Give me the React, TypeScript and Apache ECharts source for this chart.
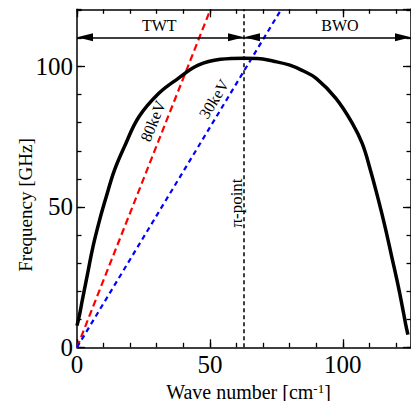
import React, { useEffect, useRef } from 'react';
import * as echarts from 'echarts';

// Dispersion curve (wave number [cm^-1] -> frequency [GHz])
const waveNumber = [0, 1, 2, 4, 6, 8.5, 11, 14.1, 17.8, 23.3, 30.7, 38.1, 45.6, 54, 62.8, 67.8, 74, 80.1, 85, 90, 97.4, 103.6, 107.3, 110.4, 113.4, 115.9, 118.4, 120.9, 123, 123.7, 124.5];
const frequency = [7.7, 11.8, 16.8, 26.3, 35.8, 45.3, 53.6, 63.1, 71.4, 82.1, 90.4, 95.8, 100.5, 102.6, 103, 102.9, 101.9, 100.5, 98.5, 95.8, 88.7, 79.8, 72.6, 63.1, 52.5, 42.9, 32.3, 21.6, 11.5, 8, 4.5];

// Beam lines (start and end points)
const beam80keV = [[0, 0], [50.06, 120]];
const beam30keV = [[0, 0], [76.6, 120]];

// Axis ranges and ticks
const X_MAX = 125.66;
const Y_MAX = 120.4;
const MAJOR_INTERVAL = 50;
const MINOR_INTERVAL = 10;
const PI_POINT = 62.83;
const ARROW_LEVEL = 110.4;

// Texts
const xTitle = 'Wave number [cm{sup|-1}]';
const yTitle = 'Frequency [GHz]';
const regionLabels = ['TWT', 'BWO'];
const beamLabels = ['80keV', '30keV'];
const piLabel = 'π-point';

const FONT = 'Liberation Serif';

function makeAxis(dim: 'x' | 'y', position: string, interval: number, tickLen: number, showLine: boolean, showLabel: boolean) {
  return {
    type: 'value',
    position,
    min: 0,
    max: dim === 'x' ? X_MAX : Y_MAX,
    interval,
    axisLine: { show: showLine, onZero: false, lineStyle: { color: '#000', width: 1.5 } },
    axisTick: { show: true, inside: true, length: tickLen, lineStyle: { color: '#000', width: 1.3 } },
    minorTick: { show: false },
    splitLine: { show: false },
    axisLabel: {
      show: showLabel,
      showMaxLabel: false,
      color: '#000',
      fontFamily: FONT,
      fontSize: 25,
      margin: dim === 'x' ? 5 : 4,
    },
  };
}

function label(text: string, x: number, y: number, fontSize: number, rotationDeg = 0, extra: any = {}) {
  return {
    type: 'text',
    x,
    y,
    rotation: (rotationDeg * Math.PI) / 180,
    silent: true,
    style: {
      text,
      fontFamily: FONT,
      fontSize,
      fill: '#000',
      align: 'center',
      verticalAlign: 'middle',
      ...extra,
    },
  };
}

export default function App() {
  const ref = useRef<HTMLDivElement>(null);
  useEffect(() => {
    const chart = echarts.init(ref.current!, null, { renderer: 'svg' });
    const curve = waveNumber.map((k, i) => [k, frequency[i]]);
    const arrowLen = 16;
    const option = {
      animation: false,
      grid: { left: 77, right: -5.3, top: 9.3, bottom: 53.7, containLabel: false },
      xAxis: [
        makeAxis('x', 'bottom', MAJOR_INTERVAL, 8, true, true),
        makeAxis('x', 'bottom', MINOR_INTERVAL, 4.5, false, false),
        makeAxis('x', 'top', MAJOR_INTERVAL, 8, true, false),
        makeAxis('x', 'top', MINOR_INTERVAL, 4.5, false, false),
      ],
      yAxis: [
        makeAxis('y', 'left', MAJOR_INTERVAL, 8, true, true),
        makeAxis('y', 'left', MINOR_INTERVAL, 4.5, false, false),
        makeAxis('y', 'right', MAJOR_INTERVAL, 8, true, false),
        makeAxis('y', 'right', MINOR_INTERVAL, 4.5, false, false),
      ],
      series: [
        {
          type: 'line',
          data: beam80keV,
          showSymbol: false,
          silent: true,
          lineStyle: { color: '#ff0000', width: 2.2, type: [7, 4] },
          markLine: {
            silent: true,
            symbol: ['none', 'none'],
            label: { show: false },
            lineStyle: { color: '#000', width: 1.5, type: [4, 3] },
            data: [{ xAxis: PI_POINT }],
          },
        },
        {
          type: 'line',
          data: beam30keV,
          showSymbol: false,
          silent: true,
          lineStyle: { color: '#0000ff', width: 2.2, type: [5, 4] },
        },
        {
          type: 'line',
          data: curve,
          showSymbol: false,
          smooth: 0.4,
          silent: true,
          lineStyle: { color: '#000', width: 3.5 },
          markLine: {
            silent: true,
            symbol: ['triangle', 'triangle'],
            symbolSize: [8, arrowLen],
            symbolOffset: [[0, arrowLen / 2], [0, arrowLen / 2]],
            label: { show: false },
            lineStyle: { color: '#000', width: 1.5, type: 'solid' },
            data: [
              [{ coord: [0, ARROW_LEVEL] }, { coord: [PI_POINT, ARROW_LEVEL] }],
              [{ coord: [PI_POINT, ARROW_LEVEL] }, { coord: [X_MAX, ARROW_LEVEL] }],
            ],
          },
        },
      ],
      graphic: [
        label(regionLabels[0], 159.3, 25, 16),
        label(regionLabels[1], 340, 25, 16),
        label(beamLabels[0], 153, 121, 16, 68),
        label(beamLabels[1], 214, 99, 16, 58.5),
        label(piLabel, 236, 203, 17, 90),
        label(yTitle, 25, 205, 19, 90),
        label(xTitle, 248.5, 391.5, 20, 0, {
          rich: { sup: { fontFamily: FONT, fontSize: 13, fill: '#000', verticalAlign: 'top' } },
        }),
      ],
    };
    chart.setOption(option as any);
    return () => chart.dispose();
  }, []);
  return <div ref={ref} style={{ position: 'absolute', left: 0, top: 0, width: 411, height: 401 }} />;
}
